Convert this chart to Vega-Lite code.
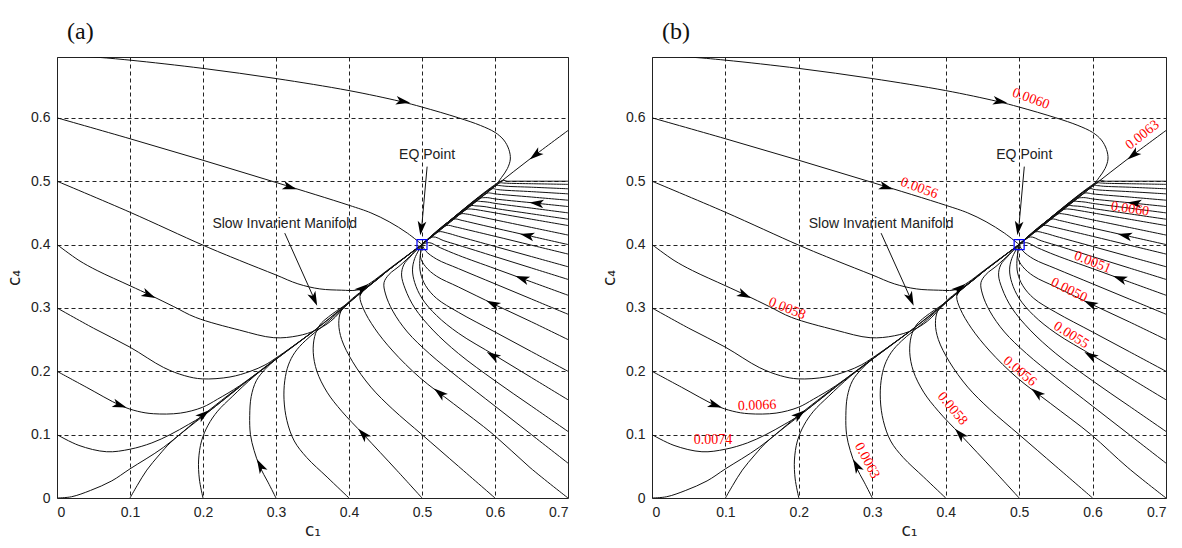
{
"$schema":"https://vega.github.io/schema/vega-lite/v6.json",
"padding":{"left":5,"top":19,"right":5,"bottom":5},
"background":"white",
"spacing":31,
"config":{
"view":{"stroke":"#222","strokeWidth":1},
"axis":{"grid":true,"gridColor":"#222","gridDash":[4,3],"gridWidth":1,"gridOpacity":1,"domain":false,"ticks":false,"labelFont":"Liberation Sans","labelFontSize":14,"labelColor":"#222","titleFont":"DejaVu Sans","titleFontSize":17,"titleFontWeight":"normal","titleColor":"#222"},
"title":{"font":"Liberation Serif","fontSize":24,"fontWeight":"normal","anchor":"start","frame":"group","color":"#111","offset":13,"dx":10}
},
"datasets":{
"traj":[
{"t":"T1","i":0,"x":0,"y":0.699},{"t":"T1","i":1,"x":0.05,"y":0.696},{"t":"T1","i":2,"x":0.1,"y":0.691},{"t":"T1","i":3,"x":0.2,"y":0.678},{"t":"T1","i":4,"x":0.3,"y":0.662},{"t":"T1","i":5,"x":0.4,"y":0.643},{"t":"T1","i":6,"x":0.47,"y":0.626},{"t":"T1","i":7,"x":0.5,"y":0.617},{"t":"T1","i":8,"x":0.55,"y":0.6},{"t":"T1","i":9,"x":0.58,"y":0.588},{"t":"T1","i":10,"x":0.6,"y":0.577},{"t":"T1","i":11,"x":0.612,"y":0.565},{"t":"T1","i":12,"x":0.619,"y":0.55},{"t":"T1","i":13,"x":0.621,"y":0.535},{"t":"T1","i":14,"x":0.617,"y":0.52},{"t":"T1","i":15,"x":0.609,"y":0.506},{"t":"T1","i":16,"x":0.6,"y":0.493},{"t":"T1","i":17,"x":0.55,"y":0.446},{"t":"T1","i":18,"x":0.5,"y":0.4},
{"t":"T2","i":0,"x":0,"y":0.6},{"t":"T2","i":1,"x":0.1,"y":0.567},{"t":"T2","i":2,"x":0.2,"y":0.533},{"t":"T2","i":3,"x":0.3,"y":0.498},{"t":"T2","i":4,"x":0.4,"y":0.462},{"t":"T2","i":5,"x":0.43,"y":0.45},{"t":"T2","i":6,"x":0.455,"y":0.436},{"t":"T2","i":7,"x":0.48,"y":0.418},{"t":"T2","i":8,"x":0.5,"y":0.4},
{"t":"T3","i":0,"x":0,"y":0.5},{"t":"T3","i":1,"x":0.1,"y":0.451},{"t":"T3","i":2,"x":0.2,"y":0.399},{"t":"T3","i":3,"x":0.25,"y":0.375},{"t":"T3","i":4,"x":0.3,"y":0.352},{"t":"T3","i":5,"x":0.33,"y":0.338},{"t":"T3","i":6,"x":0.36,"y":0.33},{"t":"T3","i":7,"x":0.39,"y":0.328},{"t":"T3","i":8,"x":0.41,"y":0.328},{"t":"T3","i":9,"x":0.425,"y":0.334},{"t":"T3","i":10,"x":0.44,"y":0.346},{"t":"T3","i":11,"x":0.45,"y":0.356},{"t":"T3","i":12,"x":0.5,"y":0.4},
{"t":"T4","i":0,"x":0,"y":0.4},{"t":"T4","i":1,"x":0.03,"y":0.375},{"t":"T4","i":2,"x":0.055,"y":0.359},{"t":"T4","i":3,"x":0.1,"y":0.335},{"t":"T4","i":4,"x":0.128,"y":0.32},{"t":"T4","i":5,"x":0.16,"y":0.302},{"t":"T4","i":6,"x":0.19,"y":0.285},{"t":"T4","i":7,"x":0.25,"y":0.265},{"t":"T4","i":8,"x":0.297,"y":0.253},{"t":"T4","i":9,"x":0.33,"y":0.256},{"t":"T4","i":10,"x":0.355,"y":0.265},{"t":"T4","i":11,"x":0.375,"y":0.279},{"t":"T4","i":12,"x":0.4,"y":0.308},{"t":"T4","i":13,"x":0.45,"y":0.356},{"t":"T4","i":14,"x":0.5,"y":0.4},
{"t":"T5","i":0,"x":0,"y":0.3},{"t":"T5","i":1,"x":0.05,"y":0.268},{"t":"T5","i":2,"x":0.1,"y":0.238},{"t":"T5","i":3,"x":0.146,"y":0.206},{"t":"T5","i":4,"x":0.175,"y":0.193},{"t":"T5","i":5,"x":0.199,"y":0.188},{"t":"T5","i":6,"x":0.237,"y":0.191},{"t":"T5","i":7,"x":0.265,"y":0.2},{"t":"T5","i":8,"x":0.285,"y":0.21},{"t":"T5","i":9,"x":0.3,"y":0.221},{"t":"T5","i":10,"x":0.35,"y":0.262},{"t":"T5","i":11,"x":0.4,"y":0.308},
{"t":"T6","i":0,"x":0,"y":0.2},{"t":"T6","i":1,"x":0.04,"y":0.175},{"t":"T6","i":2,"x":0.087,"y":0.146},{"t":"T6","i":3,"x":0.11,"y":0.137},{"t":"T6","i":4,"x":0.132,"y":0.133},{"t":"T6","i":5,"x":0.169,"y":0.134},{"t":"T6","i":6,"x":0.199,"y":0.143},{"t":"T6","i":7,"x":0.22,"y":0.156},{"t":"T6","i":8,"x":0.25,"y":0.177},{"t":"T6","i":9,"x":0.3,"y":0.22},
{"t":"T7","i":0,"x":0,"y":0.1},{"t":"T7","i":1,"x":0.03,"y":0.083},{"t":"T7","i":2,"x":0.068,"y":0.073},{"t":"T7","i":3,"x":0.1,"y":0.077},{"t":"T7","i":4,"x":0.13,"y":0.087},{"t":"T7","i":5,"x":0.155,"y":0.1},{"t":"T7","i":6,"x":0.18,"y":0.116},{"t":"T7","i":7,"x":0.2,"y":0.13},{"t":"T7","i":8,"x":0.25,"y":0.175},
{"t":"T8","i":0,"x":0,"y":0},{"t":"T8","i":1,"x":0.02,"y":0.002},{"t":"T8","i":2,"x":0.046,"y":0.012},{"t":"T8","i":3,"x":0.075,"y":0.027},{"t":"T8","i":4,"x":0.1,"y":0.046},{"t":"T8","i":5,"x":0.146,"y":0.08},{"t":"T8","i":6,"x":0.2,"y":0.131},{"t":"T8","i":7,"x":0.25,"y":0.176},{"t":"T8","i":8,"x":0.3,"y":0.219},{"t":"T8","i":9,"x":0.35,"y":0.262},{"t":"T8","i":10,"x":0.4,"y":0.309},{"t":"T8","i":11,"x":0.45,"y":0.356},{"t":"T8","i":12,"x":0.5,"y":0.4},
{"t":"T9","i":0,"x":0.1,"y":0},{"t":"T9","i":1,"x":0.11,"y":0.02},{"t":"T9","i":2,"x":0.123,"y":0.044},{"t":"T9","i":3,"x":0.14,"y":0.068},{"t":"T9","i":4,"x":0.155,"y":0.087},{"t":"T9","i":5,"x":0.18,"y":0.111},{"t":"T9","i":6,"x":0.2,"y":0.129},{"t":"T9","i":7,"x":0.25,"y":0.175},{"t":"T9","i":8,"x":0.3,"y":0.219},
{"t":"T10","i":0,"x":0.2,"y":0},{"t":"T10","i":1,"x":0.195,"y":0.03},{"t":"T10","i":2,"x":0.194,"y":0.06},{"t":"T10","i":3,"x":0.198,"y":0.09},{"t":"T10","i":4,"x":0.207,"y":0.115},{"t":"T10","i":5,"x":0.22,"y":0.137},{"t":"T10","i":6,"x":0.24,"y":0.16},{"t":"T10","i":7,"x":0.27,"y":0.192},{"t":"T10","i":8,"x":0.3,"y":0.219},{"t":"T10","i":9,"x":0.35,"y":0.262},
{"t":"T11","i":0,"x":0.3,"y":0},{"t":"T11","i":1,"x":0.289,"y":0.025},{"t":"T11","i":2,"x":0.278,"y":0.049},{"t":"T11","i":3,"x":0.27,"y":0.075},{"t":"T11","i":4,"x":0.265,"y":0.1},{"t":"T11","i":5,"x":0.264,"y":0.13},{"t":"T11","i":6,"x":0.266,"y":0.16},{"t":"T11","i":7,"x":0.273,"y":0.185},{"t":"T11","i":8,"x":0.285,"y":0.203},{"t":"T11","i":9,"x":0.3,"y":0.219},{"t":"T11","i":10,"x":0.35,"y":0.262},
{"t":"T12","i":0,"x":0.4,"y":0},{"t":"T12","i":1,"x":0.37,"y":0.033},{"t":"T12","i":2,"x":0.342,"y":0.064},{"t":"T12","i":3,"x":0.325,"y":0.09},{"t":"T12","i":4,"x":0.315,"y":0.122},{"t":"T12","i":5,"x":0.311,"y":0.155},{"t":"T12","i":6,"x":0.312,"y":0.185},{"t":"T12","i":7,"x":0.317,"y":0.21},{"t":"T12","i":8,"x":0.326,"y":0.23},{"t":"T12","i":9,"x":0.34,"y":0.248},{"t":"T12","i":10,"x":0.37,"y":0.277},{"t":"T12","i":11,"x":0.4,"y":0.308},{"t":"T12","i":12,"x":0.45,"y":0.356},
{"t":"T13","i":0,"x":0.5,"y":0},{"t":"T13","i":1,"x":0.466,"y":0.043},{"t":"T13","i":2,"x":0.42,"y":0.1},{"t":"T13","i":3,"x":0.39,"y":0.137},{"t":"T13","i":4,"x":0.37,"y":0.167},{"t":"T13","i":5,"x":0.356,"y":0.2},{"t":"T13","i":6,"x":0.351,"y":0.23},{"t":"T13","i":7,"x":0.353,"y":0.255},{"t":"T13","i":8,"x":0.36,"y":0.273},{"t":"T13","i":9,"x":0.372,"y":0.286},{"t":"T13","i":10,"x":0.4,"y":0.309},{"t":"T13","i":11,"x":0.45,"y":0.356},
{"t":"T14","i":0,"x":0.6,"y":0},{"t":"T14","i":1,"x":0.55,"y":0.05},{"t":"T14","i":2,"x":0.5,"y":0.1},{"t":"T14","i":3,"x":0.46,"y":0.14},{"t":"T14","i":4,"x":0.43,"y":0.175},{"t":"T14","i":5,"x":0.405,"y":0.215},{"t":"T14","i":6,"x":0.39,"y":0.25},{"t":"T14","i":7,"x":0.386,"y":0.275},{"t":"T14","i":8,"x":0.389,"y":0.295},{"t":"T14","i":9,"x":0.4,"y":0.31},{"t":"T14","i":10,"x":0.42,"y":0.329},{"t":"T14","i":11,"x":0.45,"y":0.356},{"t":"T14","i":12,"x":0.5,"y":0.4},
{"t":"T15","i":0,"x":0.7,"y":0},{"t":"T15","i":1,"x":0.648,"y":0.048},{"t":"T15","i":2,"x":0.598,"y":0.1},{"t":"T15","i":3,"x":0.543,"y":0.149},{"t":"T15","i":4,"x":0.497,"y":0.19},{"t":"T15","i":5,"x":0.46,"y":0.232},{"t":"T15","i":6,"x":0.435,"y":0.268},{"t":"T15","i":7,"x":0.42,"y":0.298},{"t":"T15","i":8,"x":0.415,"y":0.318},{"t":"T15","i":9,"x":0.42,"y":0.331},{"t":"T15","i":10,"x":0.435,"y":0.344},{"t":"T15","i":11,"x":0.46,"y":0.366},{"t":"T15","i":12,"x":0.5,"y":0.4},
{"t":"R055","i":0,"x":0.7,"y":0.055},{"t":"R055","i":1,"x":0.65,"y":0.1},{"t":"R055","i":2,"x":0.6,"y":0.145},{"t":"R055","i":3,"x":0.55,"y":0.19},{"t":"R055","i":4,"x":0.51,"y":0.228},{"t":"R055","i":5,"x":0.48,"y":0.262},{"t":"R055","i":6,"x":0.46,"y":0.295},{"t":"R055","i":7,"x":0.45,"y":0.322},{"t":"R055","i":8,"x":0.448,"y":0.34},{"t":"R055","i":9,"x":0.455,"y":0.353},{"t":"R055","i":10,"x":0.47,"y":0.367},{"t":"R055","i":11,"x":0.5,"y":0.4},
{"t":"R105","i":0,"x":0.7,"y":0.105},{"t":"R105","i":1,"x":0.65,"y":0.145},{"t":"R105","i":2,"x":0.6,"y":0.185},{"t":"R105","i":3,"x":0.55,"y":0.228},{"t":"R105","i":4,"x":0.515,"y":0.265},{"t":"R105","i":5,"x":0.49,"y":0.3},{"t":"R105","i":6,"x":0.477,"y":0.33},{"t":"R105","i":7,"x":0.472,"y":0.352},{"t":"R105","i":8,"x":0.475,"y":0.368},{"t":"R105","i":9,"x":0.485,"y":0.382},{"t":"R105","i":10,"x":0.5,"y":0.4},
{"t":"R155","i":0,"x":0.7,"y":0.155},{"t":"R155","i":1,"x":0.65,"y":0.19},{"t":"R155","i":2,"x":0.6,"y":0.225},{"t":"R155","i":3,"x":0.55,"y":0.26},{"t":"R155","i":4,"x":0.52,"y":0.288},{"t":"R155","i":5,"x":0.5,"y":0.315},{"t":"R155","i":6,"x":0.49,"y":0.34},{"t":"R155","i":7,"x":0.487,"y":0.36},{"t":"R155","i":8,"x":0.49,"y":0.378},{"t":"R155","i":9,"x":0.5,"y":0.4},
{"t":"R20","i":0,"x":0.7,"y":0.2},{"t":"R20","i":1,"x":0.65,"y":0.231},{"t":"R20","i":2,"x":0.6,"y":0.262},{"t":"R20","i":3,"x":0.55,"y":0.293},{"t":"R20","i":4,"x":0.52,"y":0.315},{"t":"R20","i":5,"x":0.505,"y":0.335},{"t":"R20","i":6,"x":0.498,"y":0.355},{"t":"R20","i":7,"x":0.497,"y":0.375},{"t":"R20","i":8,"x":0.5,"y":0.4},
{"t":"R25","i":0,"x":0.7,"y":0.25},{"t":"R25","i":1,"x":0.65,"y":0.278},{"t":"R25","i":2,"x":0.6,"y":0.305},{"t":"R25","i":3,"x":0.55,"y":0.333},{"t":"R25","i":4,"x":0.52,"y":0.35},{"t":"R25","i":5,"x":0.505,"y":0.365},{"t":"R25","i":6,"x":0.498,"y":0.38},{"t":"R25","i":7,"x":0.5,"y":0.4},
{"t":"R29","i":0,"x":0.7,"y":0.29},{"t":"R29","i":1,"x":0.65,"y":0.314},{"t":"R29","i":2,"x":0.6,"y":0.338},{"t":"R29","i":3,"x":0.55,"y":0.362},{"t":"R29","i":4,"x":0.52,"y":0.377},{"t":"R29","i":5,"x":0.505,"y":0.39},{"t":"R29","i":6,"x":0.5,"y":0.4},
{"t":"R32","i":0,"x":0.7,"y":0.32},{"t":"R32","i":1,"x":0.65,"y":0.341},{"t":"R32","i":2,"x":0.6,"y":0.362},{"t":"R32","i":3,"x":0.55,"y":0.383},{"t":"R32","i":4,"x":0.525,"y":0.395},{"t":"R32","i":5,"x":0.51,"y":0.403},{"t":"R32","i":6,"x":0.5,"y":0.4},
{"t":"R345","i":0,"x":0.7,"y":0.345},{"t":"R345","i":1,"x":0.65,"y":0.363},{"t":"R345","i":2,"x":0.6,"y":0.381},{"t":"R345","i":3,"x":0.55,"y":0.399},{"t":"R345","i":4,"x":0.53,"y":0.406},{"t":"R345","i":5,"x":0.515,"y":0.412},{"t":"R345","i":6,"x":0.5,"y":0.4},
{"t":"R365","i":0,"x":0.7,"y":0.365},{"t":"R365","i":1,"x":0.65,"y":0.381},{"t":"R365","i":2,"x":0.6,"y":0.397},{"t":"R365","i":3,"x":0.55,"y":0.413},{"t":"R365","i":4,"x":0.535,"y":0.418},{"t":"R365","i":5,"x":0.522,"y":0.42},{"t":"R365","i":6,"x":0.5,"y":0.4},
{"t":"R385","i":0,"x":0.7,"y":0.385},{"t":"R385","i":1,"x":0.65,"y":0.399},{"t":"R385","i":2,"x":0.6,"y":0.413},{"t":"R385","i":3,"x":0.56,"y":0.424},{"t":"R385","i":4,"x":0.545,"y":0.428},{"t":"R385","i":5,"x":0.533,"y":0.43},{"t":"R385","i":6,"x":0.5,"y":0.4},
{"t":"R40","i":0,"x":0.7,"y":0.4},{"t":"R40","i":1,"x":0.65,"y":0.413},{"t":"R40","i":2,"x":0.6,"y":0.426},{"t":"R40","i":3,"x":0.57,"y":0.434},{"t":"R40","i":4,"x":0.555,"y":0.438},{"t":"R40","i":5,"x":0.543,"y":0.44},{"t":"R40","i":6,"x":0.5,"y":0.4},
{"t":"R415","i":0,"x":0.7,"y":0.415},{"t":"R415","i":1,"x":0.65,"y":0.427},{"t":"R415","i":2,"x":0.6,"y":0.439},{"t":"R415","i":3,"x":0.575,"y":0.445},{"t":"R415","i":4,"x":0.562,"y":0.448},{"t":"R415","i":5,"x":0.552,"y":0.448},{"t":"R415","i":6,"x":0.5,"y":0.4},
{"t":"R43","i":0,"x":0.7,"y":0.43},{"t":"R43","i":1,"x":0.65,"y":0.44},{"t":"R43","i":2,"x":0.6,"y":0.45},{"t":"R43","i":3,"x":0.58,"y":0.454},{"t":"R43","i":4,"x":0.568,"y":0.456},{"t":"R43","i":5,"x":0.56,"y":0.455},{"t":"R43","i":6,"x":0.5,"y":0.4},
{"t":"R44","i":0,"x":0.7,"y":0.44},{"t":"R44","i":1,"x":0.65,"y":0.4485},{"t":"R44","i":2,"x":0.6,"y":0.457},{"t":"R44","i":3,"x":0.585,"y":0.46},{"t":"R44","i":4,"x":0.574,"y":0.461},{"t":"R44","i":5,"x":0.566,"y":0.461},{"t":"R44","i":6,"x":0.5,"y":0.4},
{"t":"R45","i":0,"x":0.7,"y":0.45},{"t":"R45","i":1,"x":0.65,"y":0.4575},{"t":"R45","i":2,"x":0.6,"y":0.465},{"t":"R45","i":3,"x":0.59,"y":0.467},{"t":"R45","i":4,"x":0.58,"y":0.468},{"t":"R45","i":5,"x":0.574,"y":0.468},{"t":"R45","i":6,"x":0.5,"y":0.4},
{"t":"R46","i":0,"x":0.7,"y":0.46},{"t":"R46","i":1,"x":0.65,"y":0.466},{"t":"R46","i":2,"x":0.6,"y":0.472},{"t":"R46","i":3,"x":0.59,"y":0.474},{"t":"R46","i":4,"x":0.585,"y":0.474},{"t":"R46","i":5,"x":0.58,"y":0.473},{"t":"R46","i":6,"x":0.5,"y":0.4},
{"t":"R47","i":0,"x":0.7,"y":0.47},{"t":"R47","i":1,"x":0.65,"y":0.475},{"t":"R47","i":2,"x":0.6,"y":0.48},{"t":"R47","i":3,"x":0.595,"y":0.481},{"t":"R47","i":4,"x":0.589,"y":0.481},{"t":"R47","i":5,"x":0.5,"y":0.4},
{"t":"R48","i":0,"x":0.7,"y":0.48},{"t":"R48","i":1,"x":0.65,"y":0.4835},{"t":"R48","i":2,"x":0.61,"y":0.486},{"t":"R48","i":3,"x":0.602,"y":0.487},{"t":"R48","i":4,"x":0.596,"y":0.488},{"t":"R48","i":5,"x":0.5,"y":0.4},
{"t":"R488","i":0,"x":0.7,"y":0.488},{"t":"R488","i":1,"x":0.65,"y":0.4905},{"t":"R488","i":2,"x":0.615,"y":0.492},{"t":"R488","i":3,"x":0.607,"y":0.493},{"t":"R488","i":4,"x":0.601,"y":0.493},{"t":"R488","i":5,"x":0.5,"y":0.4},
{"t":"R495","i":0,"x":0.7,"y":0.495},{"t":"R495","i":1,"x":0.65,"y":0.496},{"t":"R495","i":2,"x":0.62,"y":0.4966},{"t":"R495","i":3,"x":0.612,"y":0.497},{"t":"R495","i":4,"x":0.606,"y":0.497},{"t":"R495","i":5,"x":0.5,"y":0.4},
{"t":"R50","i":0,"x":0.7,"y":0.5},{"t":"R50","i":1,"x":0.65,"y":0.5},{"t":"R50","i":2,"x":0.625,"y":0.5},{"t":"R50","i":3,"x":0.617,"y":0.5},{"t":"R50","i":4,"x":0.61,"y":0.501},{"t":"R50","i":5,"x":0.5,"y":0.4},
{"t":"TM","i":0,"x":0.7,"y":0.58},{"t":"TM","i":1,"x":0.65,"y":0.537},{"t":"TM","i":2,"x":0.6,"y":0.492},{"t":"TM","i":3,"x":0.55,"y":0.446},{"t":"TM","i":4,"x":0.5,"y":0.4},
{"t":"A1","i":0,"x":0.312,"y":0.418},{"t":"A1","i":1,"x":0.354,"y":0.31},
{"t":"A2","i":0,"x":0.507,"y":0.523},{"t":"A2","i":1,"x":0.499,"y":0.42}
],
"arrows":[
{"x":0.473,"y":0.626,"a":100},{"x":0.318,"y":0.491,"a":107},{"x":0.125,"y":0.321,"a":115},{"x":0.085,"y":0.147,"a":109},{"x":0.2,"y":0.131,"a":52},{"x":0.279,"y":0.05,"a":332},{"x":0.42,"y":0.1,"a":317},{"x":0.525,"y":0.165,"a":309},{"x":0.598,"y":0.224,"a":301},{"x":0.598,"y":0.306,"a":296},{"x":0.638,"y":0.346,"a":290},{"x":0.645,"y":0.414,"a":283},{"x":0.658,"y":0.465,"a":276},{"x":0.656,"y":0.542,"a":232},{"x":0.418,"y":0.33,"a":52},{"x":0.352,"y":0.315,"a":156},{"x":0.499,"y":0.427,"a":187}
],
"notes":[
{"x":0.507,"y":0.541,"txt":"EQ Point"},{"x":0.312,"y":0.432,"txt":"Slow Invarient Manifold"}
],
"eq":[{"x":0.5,"y":0.4}],
"labels":[
{"x":0.516,"y":0.63,"txt":"0.0060","a":20},{"x":0.668,"y":0.573,"txt":"0.0063","a":322},{"x":0.364,"y":0.489,"txt":"0.0056","a":20},{"x":0.651,"y":0.456,"txt":"0.0060","a":8},{"x":0.6,"y":0.372,"txt":"0.0051","a":22},{"x":0.568,"y":0.328,"txt":"0.0050","a":27},{"x":0.571,"y":0.257,"txt":"0.0055","a":32},{"x":0.501,"y":0.2,"txt":"0.0056","a":40},{"x":0.409,"y":0.141,"txt":"0.0058","a":50},{"x":0.293,"y":0.059,"txt":"0.0063","a":62},{"x":0.184,"y":0.299,"txt":"0.0058","a":22},{"x":0.143,"y":0.146,"txt":"0.0066","a":358},{"x":0.083,"y":0.092,"txt":"0.0074","a":0}
]
},
"hconcat":[
{
"width":511,"height":441,
"title":{"text":"(a)"},
"encoding":{
"x":{"field":"x","type":"quantitative","scale":{"domain":[0,0.7],"nice":false,"zero":false},"axis":{"title":"c₁","values":[0,0.1,0.2,0.3,0.4,0.5,0.6,0.7],"labelExpr":"datum.value == 0 ? '0' : format(datum.value, '.1f')","labelPadding":7,"titlePadding":3}},
"y":{"field":"y","type":"quantitative","scale":{"domain":[0,0.696],"nice":false,"zero":false},"axis":{"title":"c₄","values":[0,0.1,0.2,0.3,0.4,0.5,0.6],"labelExpr":"datum.value == 0 ? '0' : format(datum.value, '.1f')","labelPadding":7,"titlePadding":7}}
},
"layer":[
{"data":{"name":"traj"},"mark":{"type":"line","color":"#111","strokeWidth":1,"clip":true,"interpolate":"catmull-rom"},"encoding":{"detail":{"field":"t"},"order":{"field":"i"}}},
{"data":{"name":"arrows"},"mark":{"type":"point","shape":"M0,-1L0.55,0.8L0,0.35L-0.55,0.8Z","filled":true,"color":"#000","opacity":1,"size":250},"encoding":{"angle":{"field":"a","type":"quantitative","scale":null}}},
{"data":{"name":"eq"},"mark":{"type":"point","shape":"square","filled":false,"stroke":"#0000ff","strokeWidth":1.2,"size":100,"opacity":1}},
{"data":{"name":"notes"},"mark":{"type":"text","font":"Liberation Sans","fontSize":14,"color":"#222","align":"center","baseline":"middle"},"encoding":{"text":{"field":"txt"}}}
]
},
{
"width":514,"height":441,
"title":{"text":"(b)"},
"encoding":{
"x":{"field":"x","type":"quantitative","scale":{"domain":[0,0.7],"nice":false,"zero":false},"axis":{"title":"c₁","values":[0,0.1,0.2,0.3,0.4,0.5,0.6,0.7],"labelExpr":"datum.value == 0 ? '0' : format(datum.value, '.1f')","labelPadding":7,"titlePadding":3}},
"y":{"field":"y","type":"quantitative","scale":{"domain":[0,0.696],"nice":false,"zero":false},"axis":{"title":"c₄","values":[0,0.1,0.2,0.3,0.4,0.5,0.6],"labelExpr":"datum.value == 0 ? '0' : format(datum.value, '.1f')","labelPadding":7,"titlePadding":7}}
},
"layer":[
{"data":{"name":"traj"},"mark":{"type":"line","color":"#111","strokeWidth":1,"clip":true,"interpolate":"catmull-rom"},"encoding":{"detail":{"field":"t"},"order":{"field":"i"}}},
{"data":{"name":"arrows"},"mark":{"type":"point","shape":"M0,-1L0.55,0.8L0,0.35L-0.55,0.8Z","filled":true,"color":"#000","opacity":1,"size":250},"encoding":{"angle":{"field":"a","type":"quantitative","scale":null}}},
{"data":{"name":"eq"},"mark":{"type":"point","shape":"square","filled":false,"stroke":"#0000ff","strokeWidth":1.2,"size":100,"opacity":1}},
{"data":{"name":"notes"},"mark":{"type":"text","font":"Liberation Sans","fontSize":14,"color":"#222","align":"center","baseline":"middle"},"encoding":{"text":{"field":"txt"}}},
{"data":{"name":"labels"},"mark":{"type":"text","font":"Liberation Serif","fontSize":14,"color":"#ff0000","align":"center","baseline":"middle"},"encoding":{"text":{"field":"txt"},"angle":{"field":"a","type":"quantitative","scale":null}}}
]
}
]
}
